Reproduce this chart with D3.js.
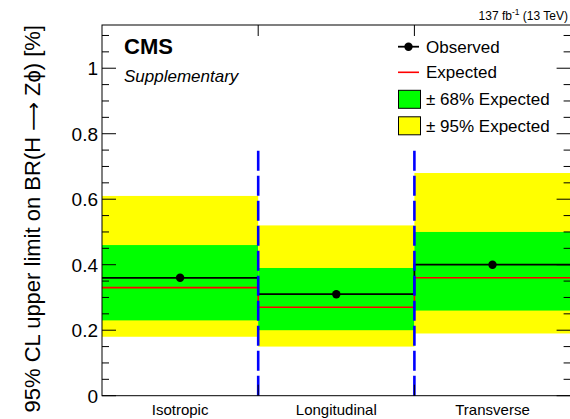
<!DOCTYPE html>
<html>
<head>
<meta charset="utf-8">
<script src="https://cdn.jsdelivr.net/npm/d3@7"></script>
<style>
  html, body { margin: 0; padding: 0; background: #fff; }
  svg { display: block; font-family: "Liberation Sans", Arial, Helvetica, sans-serif; }
</style>
</head>
<body>
<svg id="chart" width="570" height="419"></svg>
<script>
// Polarization scenarios and the 95% CL limits on BR(H -> Z phi), in percent
const categories = ["Isotropic", "Longitudinal", "Transverse"];
const observed   = [0.36, 0.31, 0.40];
const expected   = [0.33, 0.27, 0.36];
const band68Low  = [0.23, 0.20, 0.26];
const band68High = [0.46, 0.39, 0.50];
const band95Low  = [0.18, 0.15, 0.19];
const band95High = [0.61, 0.52, 0.68];
const yMajorTicks = [0, 0.2, 0.4, 0.6, 0.8, 1];
const yTickLabels = ["0", "0.2", "0.4", "0.6", "0.8", "1"];
const dividerPositions = [1, 2];
const dividerHeight = 0.75;
const legendEntries = ["Observed", "Expected", "\u00B1 68% Expected", "\u00B1 95% Expected"];

const svg = d3.select("#chart");
const frameL = 102, frameR = 570.6, frameT = 25, frameB = 395.7;

const x = d3.scaleLinear().domain([0, categories.length]).range([frameL, frameR]);
const y = d3.scaleLinear().domain([0, 1.132]).range([frameB, frameT]);

const plot = svg.append("g");

// Expected bands: 95% then 68%
categories.forEach((c, i) => {
  plot.append("rect")
    .attr("x", x(i)).attr("width", x(i + 1) - x(i))
    .attr("y", y(band95High[i])).attr("height", y(band95Low[i]) - y(band95High[i]))
    .attr("fill", "#ffff00");
  plot.append("rect")
    .attr("x", x(i)).attr("width", x(i + 1) - x(i))
    .attr("y", y(band68High[i])).attr("height", y(band68Low[i]) - y(band68High[i]))
    .attr("fill", "#00ff00");
});

// Step lines for expected and observed limits
function stepPoints(vals) {
  const pts = [];
  vals.forEach((v, i) => { pts.push([i, v]); pts.push([i + 1, v]); });
  return pts;
}
const line = d3.line().x(d => x(d[0])).y(d => y(d[1]));

plot.append("path").attr("d", line(stepPoints(expected)))
  .attr("fill", "none").attr("stroke", "#ff0000").attr("stroke-width", 1.6);
plot.append("path").attr("d", line(stepPoints(observed)))
  .attr("fill", "none").attr("stroke", "#000").attr("stroke-width", 1.8);

plot.selectAll("circle.obs").data(observed).enter().append("circle")
  .attr("class", "obs")
  .attr("cx", (d, i) => x(i + 0.5)).attr("cy", d => y(d)).attr("r", 4.2)
  .attr("fill", "#000");

// Dashed separators between scenarios
dividerPositions.forEach(p => {
  plot.append("line")
    .attr("x1", x(p)).attr("x2", x(p))
    .attr("y1", y(0)).attr("y2", y(dividerHeight))
    .attr("stroke", "#0000ff").attr("stroke-width", 2.6)
    .attr("stroke-dasharray", "20,5");
});

// Frame and axes
const axes = svg.append("g").attr("stroke", "#000").attr("stroke-width", 1).attr("fill", "none");
axes.append("rect").attr("x", frameL).attr("y", frameT).attr("width", frameR - frameL).attr("height", frameB - frameT);

const minorTicks = d3.range(0, 1.1301, 0.05).filter(v => !yMajorTicks.some(m => Math.abs(m - v) < 1e-6));
yMajorTicks.forEach(v => {
  axes.append("line").attr("x1", frameL).attr("x2", frameL + 14).attr("y1", y(v)).attr("y2", y(v));
  axes.append("line").attr("x1", frameR).attr("x2", frameR - 14).attr("y1", y(v)).attr("y2", y(v));
});
minorTicks.forEach(v => {
  axes.append("line").attr("x1", frameL).attr("x2", frameL + 7).attr("y1", y(v)).attr("y2", y(v));
  axes.append("line").attr("x1", frameR).attr("x2", frameR - 7).attr("y1", y(v)).attr("y2", y(v));
});
dividerPositions.forEach(p => {
  axes.append("line").attr("x1", x(p)).attr("x2", x(p)).attr("y1", frameT).attr("y2", frameT + 11);
  axes.append("line").attr("x1", x(p)).attr("x2", x(p)).attr("y1", frameB).attr("y2", frameB - 11);
});

// Tick labels
svg.append("g").selectAll("text").data(yMajorTicks).enter().append("text")
  .attr("x", 98).attr("y", d => y(d)).attr("dy", "0.36em")
  .attr("text-anchor", "end").attr("font-size", 19)
  .text((d, i) => yTickLabels[i]);

svg.append("g").selectAll("text").data(categories).enter().append("text")
  .attr("x", (d, i) => x(i + 0.5)).attr("y", 415)
  .attr("text-anchor", "middle").attr("font-size", 15)
  .text(d => d);

// Y axis title
const yTitle = svg.append("text")
  .attr("transform", "translate(39.5," + frameT + ") rotate(-90)")
  .attr("text-anchor", "end").attr("font-size", 22);
yTitle.append("tspan").text("95% CL upper limit on BR(H ");
yTitle.append("tspan").attr("font-family", "DejaVu Sans").attr("font-size", 20).text("\u27F6");
yTitle.append("tspan").text(" Z\u03D5) [%]");

// Labels
svg.append("text").attr("x", 124).attr("y", 54)
  .attr("font-size", 22).attr("font-weight", "bold").text("CMS");
svg.append("text").attr("x", 124).attr("y", 82)
  .attr("font-size", 17).attr("font-style", "italic").text("Supplementary");

const lumi = svg.append("text").attr("x", 568).attr("y", 20)
  .attr("text-anchor", "end").attr("font-size", 12);
lumi.append("tspan").text("137 fb");
lumi.append("tspan").attr("font-size", 8.5).attr("dy", -5).text("-1");
lumi.append("tspan").attr("dy", 5).text(" (13 TeV)");

// Legend
const rowY = [46.7, 72.3, 99.3, 125.8];
const leg = svg.append("g");
leg.append("line").attr("x1", 398).attr("x2", 419).attr("y1", rowY[0]).attr("y2", rowY[0])
  .attr("stroke", "#000").attr("stroke-width", 1.8);
leg.append("circle").attr("cx", 408.5).attr("cy", rowY[0]).attr("r", 4.2).attr("fill", "#000");
leg.append("line").attr("x1", 398).attr("x2", 419).attr("y1", rowY[1]).attr("y2", rowY[1])
  .attr("stroke", "#ff0000").attr("stroke-width", 1.6);
leg.append("rect").attr("x", 398.5).attr("y", rowY[2] - 9).attr("width", 22).attr("height", 18)
  .attr("fill", "#00ff00").attr("stroke", "#000").attr("stroke-width", 1);
leg.append("rect").attr("x", 398.5).attr("y", rowY[3] - 9).attr("width", 22).attr("height", 18)
  .attr("fill", "#ffff00").attr("stroke", "#000").attr("stroke-width", 1);
leg.selectAll("text").data(legendEntries).enter().append("text")
  .attr("x", 426).attr("y", (d, i) => rowY[i]).attr("dy", "0.36em")
  .attr("font-size", 17).text(d => d);
</script>
</body>
</html>
